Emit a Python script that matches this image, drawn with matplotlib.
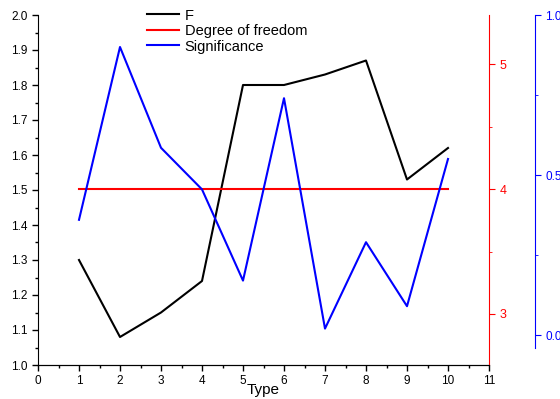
import matplotlib
matplotlib.use("Agg")
import matplotlib.pyplot as plt
from matplotlib.ticker import MultipleLocator

plt.rcParams['font.family'] = ['Liberation Sans', 'DejaVu Sans']

types = [1, 2, 3, 4, 5, 6, 7, 8, 9, 10]
F = [1.30, 1.08, 1.15, 1.24, 1.80, 1.80, 1.83, 1.87, 1.53, 1.62]
dof = [4, 4, 4, 4, 4, 4, 4, 4, 4, 4]
sig = [0.36, 0.90, 0.585, 0.455, 0.17, 0.74, 0.02, 0.29, 0.09, 0.55]

fig = plt.figure(figsize=(5.6, 3.99), dpi=100)
ax = fig.add_axes([38/560, 1-365/399, (489-38)/560, 350/399])

l1, = ax.plot(types, F, color='black', lw=1.5, label='F')
ax.set_xlim(0, 11)
ax.set_ylim(1.0, 2.0)
ax.xaxis.set_major_locator(MultipleLocator(1))
ax.xaxis.set_minor_locator(MultipleLocator(0.5))
ax.yaxis.set_major_locator(MultipleLocator(0.1))
ax.yaxis.set_minor_locator(MultipleLocator(0.05))
ax.tick_params(axis='both', which='major', direction='out', length=4, labelsize=8.5, width=1)
ax.tick_params(axis='both', which='minor', direction='out', length=2, width=1)
ax.spines['top'].set_visible(False)
ax.spines['right'].set_visible(False)
ax.set_xlabel('Type', fontsize=11, labelpad=-3)

ax2 = ax.twinx()
l2, = ax2.plot(types, dof, color='red', lw=1.5, label='Degree of freedom')
ax2.set_ylim(3 - 51/125, 5 + 49/125)
ax2.yaxis.set_major_locator(MultipleLocator(1))
ax2.yaxis.set_minor_locator(MultipleLocator(0.5))
ax2.spines['right'].set_color('red')
ax2.spines['top'].set_visible(False)
ax2.spines['left'].set_visible(False)
ax2.tick_params(axis='y', which='both', colors='red', direction='out', labelsize=9)
ax2.tick_params(axis='y', which='major', length=4)
ax2.tick_params(axis='y', which='minor', length=2)

ax3 = ax.twinx()
l3, = ax3.plot(types, sig, color='blue', lw=1.5, label='Significance')
ax3.set_ylim(-30/320, 1.0)
ax3.spines['right'].set_position(('axes', (535-38)/(489-38)))
ax3.spines['right'].set_bounds(-0.04, 1.0)
ax3.spines['right'].set_color('blue')
ax3.spines['top'].set_visible(False)
ax3.spines['left'].set_visible(False)
ax3.spines['bottom'].set_visible(False)
ax3.yaxis.set_major_locator(MultipleLocator(0.5))
ax3.yaxis.set_minor_locator(MultipleLocator(0.25))
ax3.tick_params(axis='y', which='both', colors='blue', direction='out', labelsize=8.5)
ax3.tick_params(axis='y', which='major', length=4)
ax3.tick_params(axis='y', which='minor', length=2)

leg = ax.legend(handles=[l1, l2, l3], loc='upper left', bbox_to_anchor=(103/451, 1.035),
                frameon=False, fontsize=10.5, handlelength=2.2, handletextpad=0.4,
                labelspacing=0.1, borderaxespad=0)

fig.savefig('out.png', dpi=100)
